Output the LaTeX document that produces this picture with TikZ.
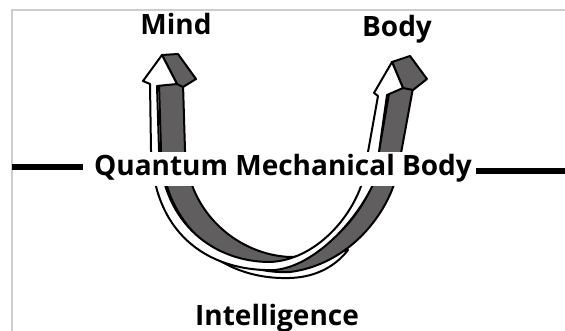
\documentclass[tikz,border=0pt]{standalone}
\usepackage{fontspec}
\setmainfont{Open Sans}
\definecolor{ribbon}{RGB}{96,94,94}
\definecolor{framegray}{RGB}{205,205,205}
\tikzset{
  lbl/.style={font=\bfseries\fontsize{28}{30}\selectfont, inner sep=0pt, anchor=base},
  outl/.style={draw=black, line width=2pt, line join=round},
  bar/.style={line width=6.5pt, black}
}
\begin{document}
\begin{tikzpicture}[x=1pt,y=-1pt]
\useasboundingbox (0,0) rectangle (565,331);
% frame
\draw[framegray, line width=2pt] (565,10) -- (12,10) -- (12,331);

% ribbon thickness edge under the bottom
\filldraw[fill=white, outl]
  (205,250) .. controls (230,271) and (260,279) .. (290,278)
  .. controls (320,277) and (338,263) .. (348,250) -- (290,262) -- cycle;

% gray band
\filldraw[fill=ribbon, outl]
  (159,84) -- (161,150) .. controls (164,235) and (235,275) .. (290,272)
  .. controls (345,265) and (385,220) .. (397,175) -- (413,88) -- (390,88)
  -- (374,180) .. controls (362,215) and (325,257) .. (290,257)
  .. controls (240,255) and (188,215) .. (185,150) -- (183,84) -- cycle;
% gray head faces
\filldraw[fill=ribbon, outl] (162,55) -- (178,54) -- (196,79) -- (183,87) -- (177,84) -- cycle;
\filldraw[fill=ribbon, outl] (392,62) -- (410,56) -- (427,79) -- (413,90) -- (403,88) -- cycle;

% white band with heads
\filldraw[fill=white, outl]
  (150,84) -- (143,81) -- (162,55) -- (177,84) -- (157,86)
  -- (159,150) .. controls (163,225) and (215,262) .. (270,262)
  .. controls (315,260) and (352,218) .. (363,180) -- (378,96)
  -- (374,93) -- (392,62) -- (403,88) -- (387,95)
  -- (375,180) .. controls (358,220) and (315,266) .. (275,270)
  .. controls (215,272) and (154,240) .. (151,150) -- cycle;

% horizontal bars
\draw[bar] (12,167) -- (83,167);
\draw[bar] (476,171) -- (565,171);

% labels
\node[lbl] (mind) at (176,35) {Mind};
\node[lbl] (body) at (397,37) {Body};
\node[lbl, fill=white, inner sep=3pt] (qmb) at (283,176) {Quantum Mechanical Body};
\node[lbl] (intel) at (277,325) {Intelligence};
\end{tikzpicture}
\end{document}
